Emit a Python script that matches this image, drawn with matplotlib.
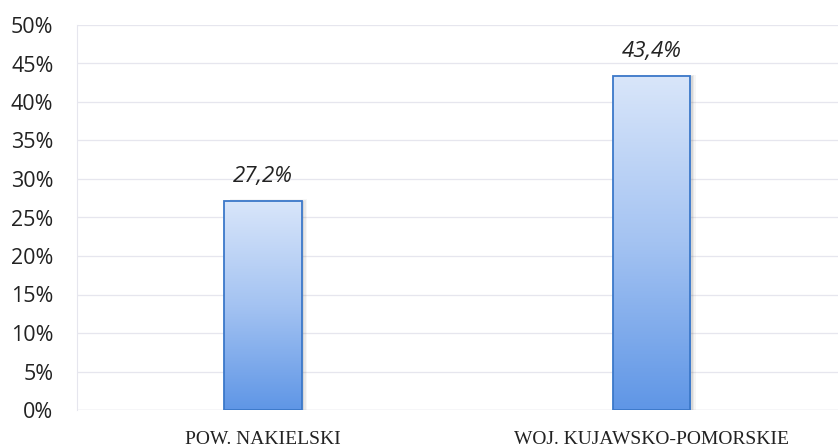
import numpy as np
import matplotlib
matplotlib.use("Agg")
import matplotlib.pyplot as plt
from matplotlib.colors import LinearSegmentedColormap
from matplotlib.ticker import MultipleLocator, FuncFormatter

categories = ["POW. NAKIELSKI", "WOJ. KUJAWSKO-POMORSKIE"]
values = [27.2, 43.4]
value_labels = ["27,2%", "43,4%"]

fig = plt.figure(figsize=(8.38, 4.48), dpi=100)
ax = fig.add_axes([77 / 838, 38 / 448, 761 / 838, 385 / 448])

x = np.arange(len(categories))
w = 0.2

# light grid
ax.yaxis.set_major_locator(MultipleLocator(5))
ax.set_ylim(0, 50)
ax.set_xlim(-0.479, 1.48)
ax.grid(axis="y", color="#e6e6ee", lw=0.9)
ax.set_axisbelow(True)
for s in ("top", "right", "bottom"):
    ax.spines[s].set_visible(False)
ax.spines["left"].set_color("#e6e6ee")
ax.axhline(0, color="#dadae2", lw=0.9, zorder=1)

grad = LinearSegmentedColormap.from_list("g", ["#5f96e6", "#a4c3f2", "#d9e6fa"])
img = np.linspace(0, 1, 256).reshape(-1, 1)

for xi, v, lab in zip(x, values, value_labels):
    # soft shadow
    for k, a in zip(range(3), (0.12, 0.08, 0.05)):
        off = 0.006 + k * 0.004
        ax.bar(xi + off, v + 0.35 + k * 0.1, w, bottom=-0.4, color="#555555",
               alpha=a, lw=0, zorder=2)
    b = ax.bar(xi, v, w, color="none", edgecolor="#3b78c9", lw=1.3, zorder=4)[0]
    im = ax.imshow(img, cmap=grad, origin="lower", aspect="auto",
                   extent=(xi - w / 2, xi + w / 2, 0, v), zorder=3)
    im.set_clip_path(b)
    ax.text(xi, v + 1.8, lab, ha="center", va="bottom", fontsize=16,
            style="italic", family="Open Sans", color="#222222")

ax.yaxis.set_major_formatter(FuncFormatter(lambda y, _: f"{y:.0f}%"))
ax.tick_params(axis="y", length=0, pad=17, labelsize=15.5, labelcolor="#222222")
for t in ax.get_yticklabels():
    t.set_family("Open Sans")
ax.set_xticks(x)
ax.set_xticklabels(categories, fontsize=14, family="Liberation Serif", color="#222222")
ax.tick_params(axis="x", length=0, pad=15)

fig.savefig("out.png", dpi=100, facecolor="white")
